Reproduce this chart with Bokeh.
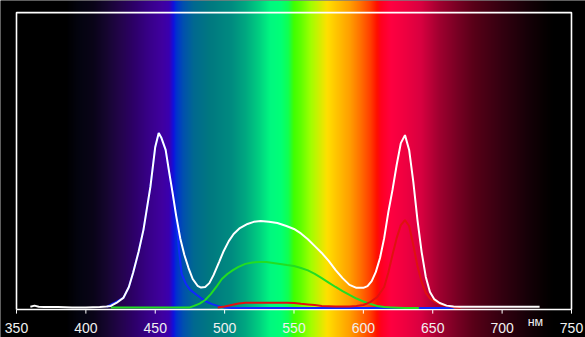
import numpy as np
from bokeh.plotting import figure
from bokeh.models import Range1d
from bokeh.core.properties import value
from bokeh.embed import file_html
from bokeh.resources import INLINE

# ---- data ----
tick_nm = [350, 400, 450, 500, 550, 600, 650, 700, 750]
tick_labels = [str(t) for t in tick_nm]
unit_label = "нм"

white_nm = [360, 363, 366, 370, 380, 390, 400, 410, 415, 418, 422, 427, 431, 434, 438, 441.5, 446.5, 450, 452.5, 454.5,
            457.5, 460, 462.5, 465, 468, 471, 474, 477, 480.5, 483, 486, 489, 492, 496, 499, 503, 506.5, 511, 516.5, 521,
            526, 532, 538, 544.5, 550, 555, 560, 565, 570, 575, 580, 585, 590, 595, 600, 603, 606, 609, 612, 615,
            618, 621, 624, 627, 630, 633, 636, 639, 642, 645, 648, 651, 655, 660, 665, 670, 690, 710, 727]
white_v = [0.004, 0.008, 0.004, 0.003, 0.003, 0.002, 0.002, 0.003, 0.005, 0.007, 0.017, 0.034, 0.071, 0.118, 0.19, 0.264, 0.409, 0.544, 0.591, 0.574,
           0.534, 0.46, 0.389, 0.314, 0.236, 0.179, 0.135, 0.098, 0.075, 0.069, 0.071, 0.084, 0.111, 0.155, 0.189, 0.226, 0.25, 0.27, 0.284, 0.291,
           0.294, 0.291, 0.287, 0.277, 0.267, 0.252, 0.232, 0.209, 0.186, 0.159, 0.128, 0.101, 0.078, 0.068, 0.068, 0.074, 0.091, 0.122, 0.169, 0.236,
           0.324, 0.399, 0.483, 0.557, 0.584, 0.534, 0.426, 0.297, 0.189, 0.105, 0.054, 0.03, 0.017, 0.008, 0.005, 0.004, 0.004, 0.004, 0.004]

blue_nm = [415, 420, 427, 431, 434, 438, 441.5, 446.5, 450, 452.5, 454.5, 457.5, 460, 462.5, 465, 467, 469, 472, 475, 480,
           484, 487, 491, 495, 500, 505, 665]
blue_v = [0.004, 0.016, 0.034, 0.071, 0.118, 0.19, 0.264, 0.409, 0.544, 0.591, 0.574, 0.534, 0.46, 0.389, 0.314, 0.2, 0.115, 0.082, 0.062, 0.044,
          0.03, 0.021, 0.013, 0.007, 0.002, 0.0, 0.0]

green_nm = [418, 475, 478, 482, 486, 490, 494, 498, 502, 506, 510, 515, 520, 525, 530, 535, 540, 545, 550, 555,
            560, 565, 570, 575, 580, 585, 590, 595, 600, 605, 610, 615, 620, 630, 640]
green_v = [0.002, 0.002, 0.007, 0.015, 0.027, 0.047, 0.071, 0.098, 0.115, 0.128, 0.139, 0.149, 0.154, 0.155, 0.155, 0.152, 0.149, 0.145, 0.142, 0.135,
           0.127, 0.115, 0.101, 0.086, 0.071, 0.057, 0.044, 0.032, 0.022, 0.014, 0.007, 0.003, 0.002, 0.0, 0.0]

red_nm = [495, 500, 505, 510, 515, 520, 530, 540, 545, 550, 555, 560, 565, 570, 580, 590, 595, 600, 605, 610,
          615, 618, 621, 624, 627, 630, 633, 636, 639, 642, 645, 648, 652, 656, 660, 665, 670]
red_v = [0.002, 0.005, 0.01, 0.015, 0.018, 0.018, 0.018, 0.018, 0.018, 0.017, 0.014, 0.012, 0.01, 0.007, 0.005, 0.005, 0.007, 0.01, 0.02, 0.037,
         0.071, 0.12, 0.18, 0.236, 0.28, 0.297, 0.277, 0.213, 0.142, 0.088, 0.051, 0.032, 0.02, 0.012, 0.007, 0.003, 0.001]

# spectrum background colour stops (wavelength, hex colour)
spec_nm = [338, 385, 395, 405, 415, 425, 435, 445, 455, 460, 463, 465, 470, 478, 490, 505, 515, 525, 533, 540,
           546, 550, 555, 562, 568, 574, 582, 590, 598, 605, 610, 613, 620, 630, 642, 655, 668, 680, 700, 718,
           730, 738, 761]
spec_col = ["#000000", "#000000", "#040410", "#0a0418", "#160630", "#24044c", "#2e006a", "#380088", "#4000a0", "#3a00b0",
            "#1010e0", "#0030d0", "#0050b0", "#006a90", "#007a80", "#008c80", "#00a880", "#00d080", "#00f880", "#00ff78",
            "#10ff50", "#40ff00", "#60ff00", "#a0ff00", "#d0f000", "#ffe000", "#ffc000", "#ffa000", "#ff7000", "#ff4000",
            "#ff1000", "#ff0020", "#ff0040", "#f00040", "#d80040", "#a00030", "#780024", "#580018", "#340010", "#180008",
            "#080002", "#000000", "#000000"]

# ---- layout constants ----
W, H = 585, 337
x0, x1 = 338.47, 760.1
y0, y1 = -0.0997, 1.0389
axis_y = -0.005
top_y = 0.998
label_y = -0.069
tick_len = 0.014

p = figure(width=W, height=H, x_range=Range1d(x0, x1), y_range=Range1d(y0, y1),
           output_backend="svg", toolbar_location=None,
           x_axis_location=None, y_axis_location=None, min_border=0,
           background_fill_color="black", border_fill_color="black", outline_line_color=None)
p.grid.visible = False

# spectrum gradient background
ncol = W
wl = np.linspace(x0, x1, ncol)
rgb = np.array([[int(c[i:i + 2], 16) for i in (1, 3, 5)] for c in spec_col], dtype=float)
img = np.empty((1, ncol), dtype=np.uint32)
view = img.view(dtype=np.uint8).reshape((1, ncol, 4))
for k in range(3):
    view[0, :, k] = np.interp(wl, spec_nm, rgb[:, k]).astype(np.uint8)
view[0, :, 3] = 255
p.image_rgba(image=[img], x=x0, y=y0, dw=x1 - x0, dh=y1 - y0)

# frame box
xmin, xmax = tick_nm[0], tick_nm[-1]
p.line([xmin, xmin, xmax, xmax], [axis_y, top_y, top_y, axis_y], line_color="white", line_width=1.6)
p.line([xmin, xmax], [axis_y, axis_y], line_color="white", line_width=1.6)
p.segment(x0=tick_nm, y0=[axis_y] * len(tick_nm), x1=tick_nm, y1=[axis_y - tick_len] * len(tick_nm),
          line_color="white", line_width=1)

# curves
p.line(blue_nm, blue_v, line_color="#1028ff", line_width=2)
p.line(green_nm, green_v, line_color="#22dd22", line_width=2)
p.line(red_nm, red_v, line_color="#e01010", line_width=2)
p.line(white_nm, white_v, line_color="white", line_width=2)

# labels
p.text(x=tick_nm, y=[label_y] * len(tick_nm), text=tick_labels, text_font=value("Liberation Sans"),
       text_font_size="14px", text_align="center", text_baseline="middle", text_color="#f0f0f0")
p.text(x=[724.0], y=[-0.048], text=[unit_label], text_font=value("Liberation Sans"),
       text_font_size="12.5px", text_align="center", text_baseline="middle", text_color="#f0f0f0")

open("out.html", "w").write(file_html(p, INLINE))
